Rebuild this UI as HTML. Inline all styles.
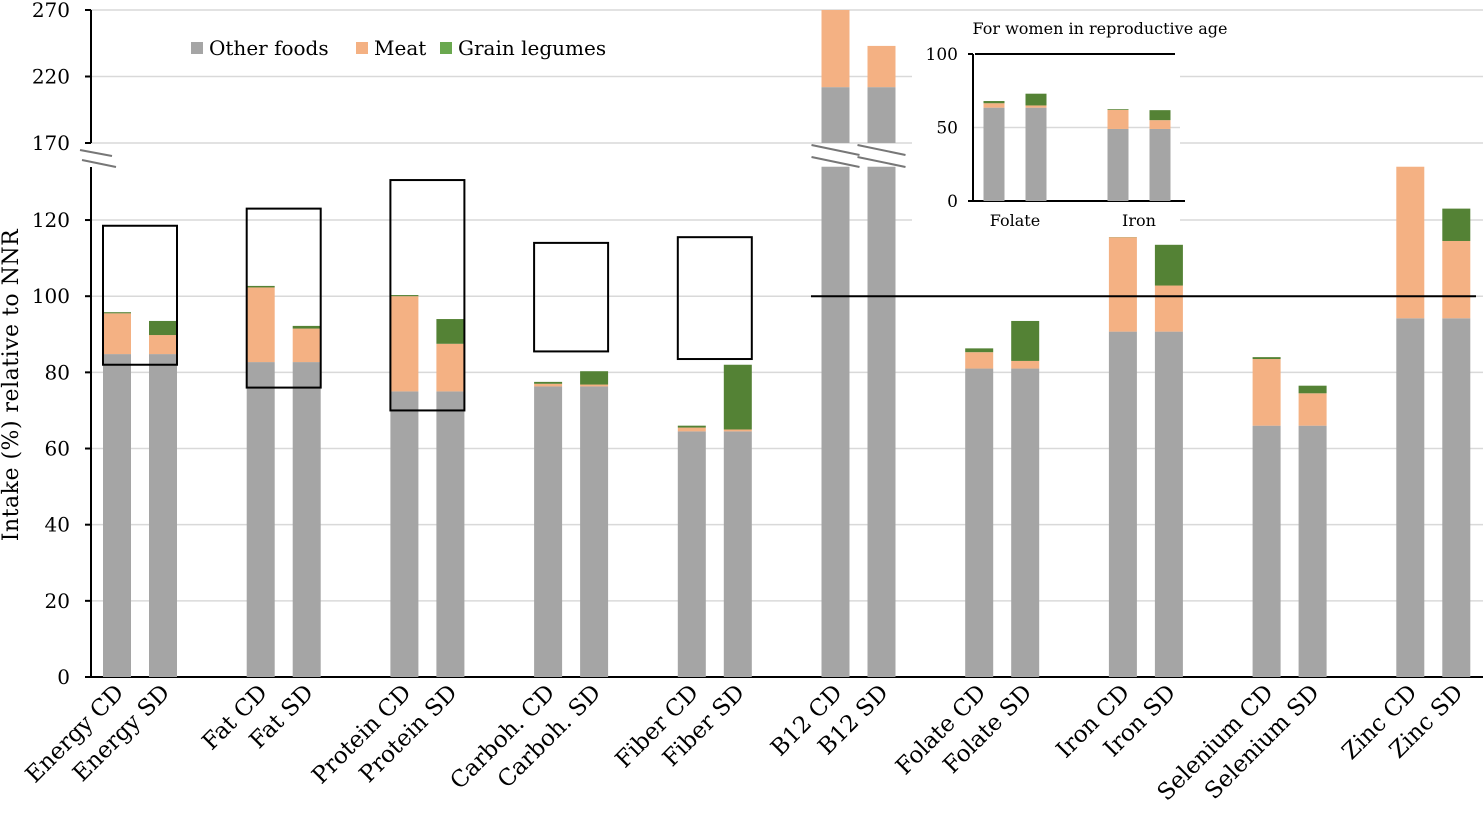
<!DOCTYPE html>
<html><head><meta charset="utf-8"><style>
body{margin:0;background:#fff}
svg text{font-family:"DejaVu Serif","Liberation Serif",serif;fill:#000}
</style></head><body>
<svg id="c" width="1483" height="823" viewBox="0 0 1483 823"></svg>
<script>
const cats=["Energy","Fat","Protein","Carboh.","Fiber","B12","Folate","Iron","Selenium","Zinc"];
const otherCD=[84.8,82.7,75,76.3,64.5,212,81,90.7,66,94.2];
const meatCD=[10.7,19.6,25,0.7,1,70,4.3,24.8,17.5,39.8];
const legCD=[0.3,0.4,0.3,0.5,0.5,0,1,0.7,0.5,0];
const otherSD=[84.8,82.7,75,76.3,64.5,212,81,90.7,66,94.2];
const meatSD=[5,8.8,12.5,0.5,0.5,31,2,12.1,8.5,20.3];
const legSD=[3.7,0.7,6.5,3.5,17,0,10.5,10.7,2,8.5];
const lowerTicks=[0,20,40,60,80,100,120];
const upperTicks=[170,220,270];
const boxLo=[82,76,70,85.5,83.5];
const boxHi=[118.5,123,130.5,114,115.5];
const insetCats=["Folate","Iron"];
const insOtherCD=[63.5,49],insMeatCD=[3,13],insLegCD=[1.5,0.5];
const insOtherSD=[63.5,49],insMeatSD=[1.5,6],insLegSD=[8,6.8];
const insTicks=[0,50,100];
const C={o:"#a5a5a5",m:"#f4b183",g:"#548235"};
const svg=document.getElementById('c');const NS="http://www.w3.org/2000/svg";
function el(t,a,p){const e=document.createElementNS(NS,t);for(const k in a)e.setAttribute(k,a[k]);(p||svg).appendChild(e);return e;}
const Y0=677,K=3.808,LTOP=134;
function yAx(v){return v<=LTOP?Y0-v*K:143-(v-170)*1.33;}
function gx(i){return 140+i*143.7;}
lowerTicks.concat(upperTicks).forEach(t=>{const y=yAx(t);
 if(t>0){const g=el('line',{x1:91,x2:1483,y1:y,y2:y,stroke:"#d9d9d9","stroke-width":1.5});}
 const tx=el('text',{x:70,y:y+7,"text-anchor":"end","font-size":20});tx.textContent=t;
 
 el('line',{x1:85,x2:91,y1:y,y2:y,stroke:"#000","stroke-width":2});
});
el('line',{x1:91,x2:91,y1:10,y2:143,stroke:"#000","stroke-width":2});
el('line',{x1:91,x2:91,y1:167,y2:677,stroke:"#000","stroke-width":2});
el('line',{x1:85,x2:1483,y1:677,y2:677,stroke:"#000","stroke-width":2});
function stack(x,w,vals,ys,name){let b=0;const cols=[C.o,C.m,C.g];
 vals.forEach((v,k)=>{if(v<=0){return;}const t=b+v;
  let y1=ys(t),y2=ys(b);
  const r=el('rect',{x:x-w/2,y:Math.min(y1,y2),width:w,height:Math.abs(y2-y1),fill:cols[k]});
  b=t;});}
cats.forEach((c,i)=>{
 [["CD",otherCD,meatCD,legCD,-23],["SD",otherSD,meatSD,legSD,23]].forEach(s=>{
  const x=gx(i)+s[4];const vals=[s[1][i],s[2][i],s[3][i]];
  const tot=vals[0]+vals[1]+vals[2];
  if(tot>LTOP){
   let b=0;const cols=[C.o,C.m,C.g];
   vals.forEach((v,k)=>{if(v<=0)return;const t=b+v;
    if(b<LTOP){const r=el('rect',{x:x-14,y:yAx(Math.min(t,LTOP)),width:28,height:yAx(b)-yAx(Math.min(t,LTOP)),fill:cols[k]});}
    if(t>170){const lo=Math.max(b,170),hi=Math.min(t,270);const r=el('rect',{x:x-14,y:yAx(hi),width:28,height:yAx(lo)-yAx(hi),fill:cols[k]});}
    b=t;});
   if(vals[0]>170){el('line',{x1:x-24,x2:x+24,y1:145,y2:155,stroke:"#777","stroke-width":2});el('line',{x1:x-24,x2:x+24,y1:157,y2:167,stroke:"#777","stroke-width":2});}
  } else stack(x,28,vals,yAx,'bar-'+c+'-'+s[0]);
  const lb=el('text',{transform:`translate(${x+8},${694}) rotate(-45)`,"text-anchor":"end","font-size":23});
  lb.textContent=c+" "+s[0];
 });
});
el('line',{x1:80,x2:112,y1:150,y2:156,stroke:"#777","stroke-width":2});
el('line',{x1:82,x2:116,y1:160,y2:167,stroke:"#777","stroke-width":2});
boxLo.forEach((lo,i)=>{const r=el('rect',{x:gx(i)-37,y:yAx(boxHi[i]),width:74,height:yAx(lo)-yAx(boxHi[i]),fill:"none",stroke:"#000","stroke-width":2});});
const rl=el('line',{x1:811,x2:1476,y1:yAx(100),y2:yAx(100),stroke:"#000","stroke-width":2});

[["Other foods",C.o,197],["Meat",C.m,362],["Grain legumes","#6aa84f",446]].forEach(l=>{
 const g=el('g',{});
 el('rect',{x:l[2]-6,y:42,width:12,height:12,fill:l[1]},g);
 const t=el('text',{x:l[2]+12,y:55,"font-size":20},g);t.textContent=l[0];});
const yt=el('text',{transform:"translate(18,385) rotate(-90)","text-anchor":"middle","font-size":22,"letter-spacing":"0.5"});
yt.textContent="Intake (%) relative to  NNR";
const ins=el('g',{});
el('rect',{x:912,y:12,width:268,height:225,fill:"#fff"},ins);
const iy=v=>201-v*1.47;
const it=el('text',{x:1100,y:34,"text-anchor":"middle","font-size":16},ins);it.textContent="For women in reproductive age";
insTicks.forEach(t=>{if(t===50){el('line',{x1:973,x2:1180,y1:iy(t),y2:iy(t),stroke:"#d9d9d9","stroke-width":1.5},ins);}
 const tx=el('text',{x:958,y:iy(t)+6,"text-anchor":"end","font-size":17},ins);tx.textContent=t;});
const ic=[1015,1139];
insetCats.forEach((c,i)=>{
 stack(ic[i]-21,21,[insOtherCD[i],insMeatCD[i],insLegCD[i]],iy,'inset-bar-'+c+'-CD');
 stack(ic[i]+21,21,[insOtherSD[i],insMeatSD[i],insLegSD[i]],iy,'inset-bar-'+c+'-SD');
 const t=el('text',{x:ic[i],y:226,"text-anchor":"middle","font-size":16},ins);t.textContent=c;});
el('line',{x1:973,x2:973,y1:54,y2:202,stroke:"#000","stroke-width":2},ins);
el('line',{x1:968,x2:1185,y1:201,y2:201,stroke:"#000","stroke-width":2},ins);
el('line',{x1:968,x2:973,y1:54,y2:54,stroke:"#000","stroke-width":2},ins);
el('line',{x1:975,x2:1175,y1:54,y2:54,stroke:"#000","stroke-width":2},ins);
</script>
</body></html>
